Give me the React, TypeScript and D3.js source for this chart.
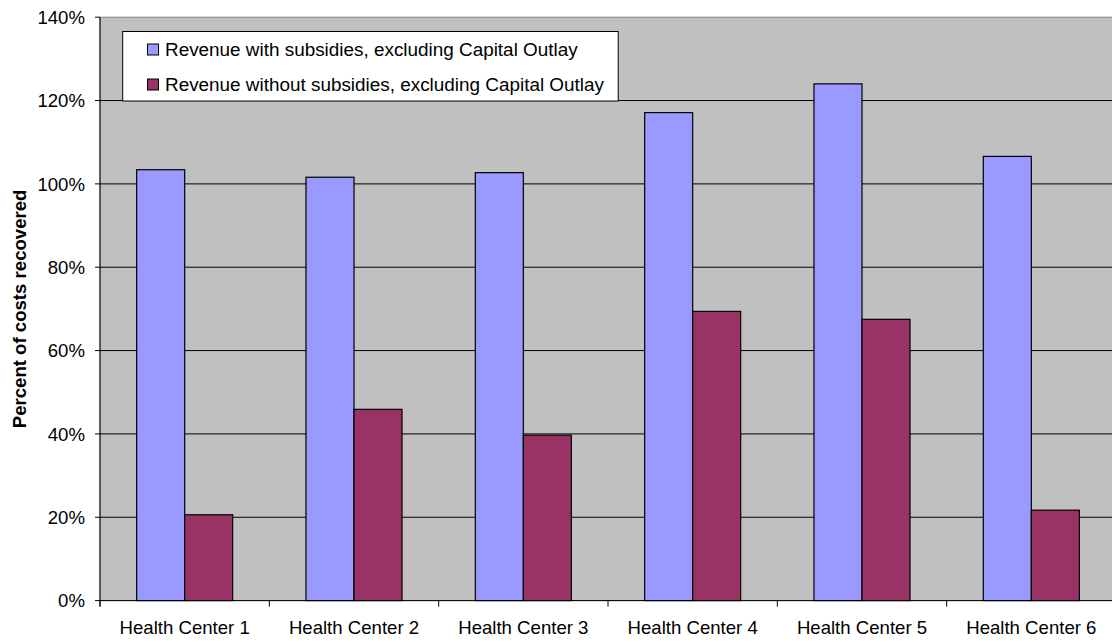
import React from "react";
import * as d3 from "d3";

const categories = [
  "Health Center 1",
  "Health Center 2",
  "Health Center 3",
  "Health Center 4",
  "Health Center 5",
  "Health Center 6",
];
const seriesNames = [
  "Revenue with subsidies, excluding Capital Outlay",
  "Revenue without subsidies, excluding Capital Outlay",
];
const withSubsidies = [103.4, 101.6, 102.7, 117.1, 124.0, 106.6];
const withoutSubsidies = [20.6, 45.9, 39.7, 69.4, 67.5, 21.7];
const seriesColors = ["#9999FF", "#993366"];
const yTicks = [0, 20, 40, 60, 80, 100, 120, 140];

const W = 1112;
const H = 642;
const plotLeft = 100;
const plotRight = 1116;
const plotTop = 17.2;
const plotBottom = 600.6;
const FONT = "Arial, 'Liberation Sans', sans-serif";

export default function App() {
  const values = [withSubsidies, withoutSubsidies];
  const x0 = d3.scaleBand<string>().domain(categories).range([plotLeft, plotRight]).padding(0);
  const bw = x0.bandwidth();
  const x1 = d3
    .scaleBand<number>()
    .domain([0, 1])
    .range([bw * 0.2165, bw * 0.7835])
    .padding(0);
  const y = d3.scaleLinear().domain([0, 140]).range([plotBottom, plotTop]);

  return (
    <div style={{ position: "fixed", left: 0, top: 0, width: W, height: H, background: "#fff" }}>
      <svg width={W} height={H} style={{ display: "block" }} fontFamily={FONT}>
        <rect x={plotLeft} y={plotTop} width={plotRight - plotLeft} height={plotBottom - plotTop} fill="#C0C0C0" stroke="#808080" strokeWidth={1} />
        {yTicks.map((t) => (
          <g key={t}>
            {t > 0 && t < 140 && (
              <line x1={plotLeft} x2={plotRight} y1={y(t)} y2={y(t)} stroke="#000" strokeWidth={1} />
            )}
            <line x1={plotLeft - 5} x2={plotLeft} y1={y(t)} y2={y(t)} stroke="#000" strokeWidth={1} />
            <text x={85} y={y(t)} dy="0.36em" textAnchor="end" fontSize={18.6} fill="#000">
              {t}%
            </text>
          </g>
        ))}
        {categories.map((c, i) => (
          <g key={c}>
            {values.map((vals, s) => (
              <rect
                key={s}
                x={(x0(c) as number) + (x1(s) as number)}
                y={y(vals[i])}
                width={x1.bandwidth()}
                height={plotBottom - y(vals[i])}
                fill={seriesColors[s]}
                stroke="#000"
                strokeWidth={1.2}
              />
            ))}
            <text x={(x0(c) as number) + bw / 2} y={634} textAnchor="middle" fontSize={18.6} fill="#000">
              {c}
            </text>
          </g>
        ))}
        {categories.map((c, i) => (
          <line key={"t" + i} x1={x0(c) as number} x2={x0(c) as number} y1={plotBottom} y2={plotBottom + 6} stroke="#000" strokeWidth={1} />
        ))}
        <line x1={plotLeft} x2={plotLeft} y1={plotTop} y2={plotBottom + 6} stroke="#000" strokeWidth={1} />
        <line x1={plotLeft} x2={plotRight} y1={plotBottom} y2={plotBottom} stroke="#000" strokeWidth={1} />
        <text
          transform={`translate(26,${(plotTop + plotBottom) / 2}) rotate(-90)`}
          textAnchor="middle"
          fontSize={18.6}
          fontWeight="bold"
          fill="#000"
        >
          Percent of costs recovered
        </text>
        <g>
          <rect x={122.7} y={31.5} width={495.5} height={69.5} fill="#fff" stroke="#000" strokeWidth={1} />
          {seriesNames.map((n, s) => (
            <g key={n} transform={`translate(0,${49.5 + s * 35})`}>
              <rect x={147.5} y={-5.5} width={11} height={11} fill={seriesColors[s]} stroke="#000" strokeWidth={1} />
              <text x={165} y={0} dy="0.36em" fontSize={18.9} fill="#000">
                {n}
              </text>
            </g>
          ))}
        </g>
      </svg>
    </div>
  );
}
